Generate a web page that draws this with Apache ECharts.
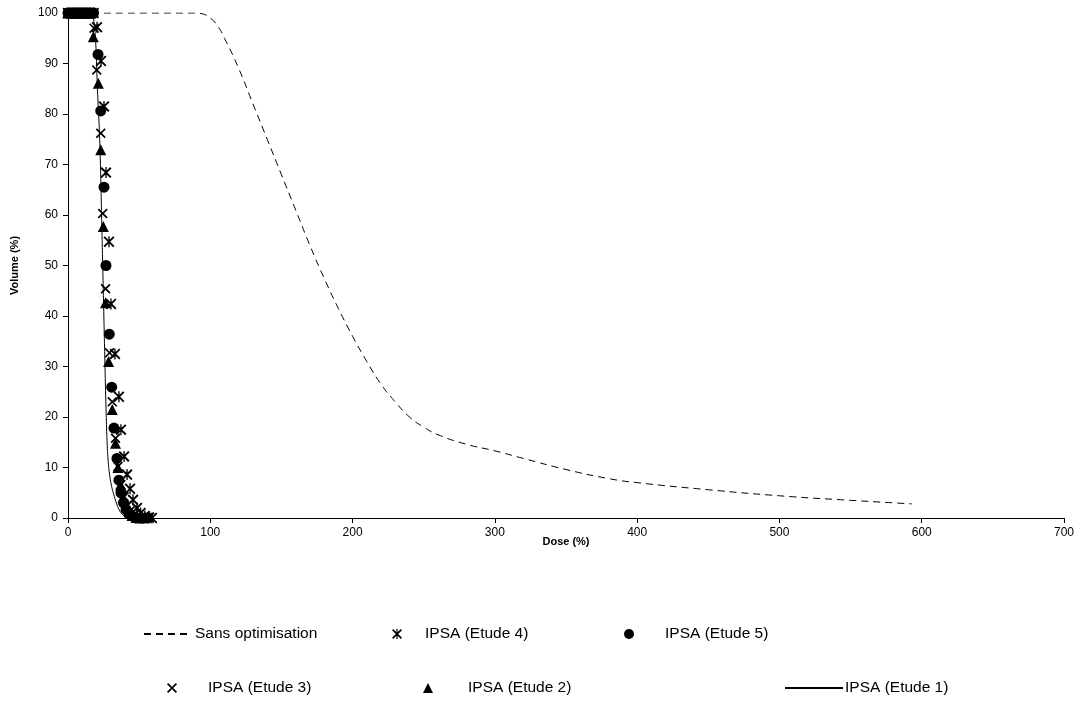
<!DOCTYPE html>
<html>
<head>
<meta charset="utf-8">
<script src="https://cdn.jsdelivr.net/npm/echarts@6/dist/echarts.min.js"></script>
<style>
html,body{margin:0;padding:0;background:#fff;}
#chart{width:1082px;height:701px;}
</style>
</head>
<body>
<div id="chart"></div>
<script>
// ---- Data (dose %, volume %) ----
const xTicks = [0, 100, 200, 300, 400, 500, 600, 700];
const yTicks = [0, 10, 20, 30, 40, 50, 60, 70, 80, 90, 100];

const sansDose = [0, 90, 95, 100, 105, 110, 120, 130, 140, 150, 160, 170, 180, 190, 200, 210, 220, 230, 240, 250, 260, 280, 300, 320, 350, 380, 400, 450, 500, 550, 593];
const sansVol  = [100, 100, 99.8, 99, 97.5, 95, 89, 82, 75, 68, 61, 54, 47.5, 41.5, 36, 31, 26.5, 23, 20, 18, 16.5, 14.6, 13.3, 11.8, 9.6, 7.8, 7, 5.6, 4.4, 3.5, 2.8];

const e1Dose = [0, 15, 17, 18.5, 19.5, 20.3, 21, 22, 22.8, 23.6, 24.4, 25.2, 26, 26.7, 27.5, 28.3, 29.3, 30.5, 32, 34, 36, 38, 40, 43];
const e1Vol  = [100, 100, 99.6, 97.5, 94, 88, 83, 77, 70, 60, 50, 40, 30, 22, 15, 11, 8.5, 6.5, 4.8, 3, 1.6, 0.8, 0.3, 0];

const e4Dose = [0, 2, 4, 6, 8, 10, 12, 14, 16, 18, 20.4, 23.2, 25.3, 26.7, 28.8, 30.2, 33, 35.8, 37.2, 39.4, 41.5, 43.6, 45.7, 48.5, 51, 54, 57, 59];
const e4Vol  = [100, 100, 100, 100, 100, 100, 100, 100, 100, 100, 97.2, 90.5, 81.5, 68.4, 54.7, 42.4, 32.5, 24, 17.5, 12.2, 8.6, 5.8, 3.6, 2, 1, 0.4, 0.1, 0];

const e5Dose = [0, 2, 4, 6, 8, 10, 12, 14, 16, 18, 21.1, 23, 25.3, 26.7, 29, 30.7, 32.3, 34.4, 35.8, 37.2, 39, 40.8, 42.9, 45, 47.8, 52, 56];
const e5Vol  = [100, 100, 100, 100, 100, 100, 100, 100, 100, 100, 91.8, 80.6, 65.5, 50, 36.4, 25.9, 17.8, 11.8, 7.5, 5, 3, 1.7, 0.9, 0.4, 0.1, 0, 0];

const e3Dose = [0, 2, 4, 6, 8, 10, 12, 14, 16, 18.3, 20.2, 23, 24.4, 26.4, 29.2, 31.1, 33.4, 35.1, 37.2, 39.4, 41.5, 43.6, 46.4, 49.2, 52.7, 55.5];
const e3Vol  = [100, 100, 100, 100, 100, 100, 100, 100, 100, 97, 88.7, 76.2, 60.3, 45.4, 32.7, 23, 15.8, 10.2, 6.6, 4.2, 2.5, 1.4, 0.7, 0.3, 0.1, 0];

const e2Dose = [0, 2, 4, 6, 8, 10, 12, 14, 16, 17.8, 21.3, 23, 24.8, 26.4, 28.5, 31.1, 33.4, 35.1, 36.9, 38.7, 40.8, 42.9, 45, 47.8, 50.6];
const e2Vol  = [100, 100, 100, 100, 100, 100, 100, 100, 100, 95.3, 86.1, 72.9, 57.7, 42.6, 31, 21.5, 14.8, 10, 6.6, 4.1, 2.3, 1.2, 0.5, 0.1, 0];

const names = ['Sans optimisation', 'IPSA (Etude 4)', 'IPSA (Etude 5)', 'IPSA (Etude 3)', 'IPSA (Etude 2)', 'IPSA (Etude 1)'];

function pairs(xs, ys) { return xs.map((x, i) => [x, ys[i]]); }

const CROSS = 'path://M0,1.2 L1.2,0 L10,8.8 L8.8,10 Z M8.8,0 L10,1.2 L1.2,10 L0,8.8 Z';
const STAR = 'path://M0,1.2 L1.2,0 L10,8.8 L8.8,10 Z M8.8,0 L10,1.2 L1.2,10 L0,8.8 Z M4.4,0 L5.6,0 L5.6,10 L4.4,10 Z';

const FONT = 'Liberation Sans, Arial, sans-serif';
const LFS = 15.5;
const chart = echarts.init(document.getElementById('chart'), null, {renderer: 'canvas'});

function legendAt(name, left, top, pad, opts) {
  return Object.assign({
    data: [name], left: left, top: top, orient: 'horizontal', padding: 0,
    itemWidth: 10, itemHeight: 10, selectedMode: false,
    textStyle: {fontFamily: FONT, fontSize: LFS, color: '#000', padding: [0, 0, 0, pad]}
  }, opts || {});
}

chart.setOption({
  animation: false,
  backgroundColor: '#fff',
  textStyle: {fontFamily: FONT},
  grid: {left: 68, right: 18, top: 13, bottom: 183, containLabel: false},
  xAxis: {
    type: 'value', min: 0, max: 700, interval: 100,
    name: 'Dose (%)', nameLocation: 'middle', nameGap: 18, nameMoveOverlap: false,
    nameTextStyle: {fontFamily: FONT, fontSize: 11, fontWeight: 'bold', color: '#000'},
    axisLine: {show: true, lineStyle: {color: '#000', width: 1}},
    axisTick: {show: true, length: 5, lineStyle: {color: '#000'}},
    axisLabel: {fontFamily: FONT, fontSize: 12, color: '#000', margin: 9},
    splitLine: {show: false}
  },
  yAxis: {
    type: 'value', min: 0, max: 100, interval: 10,
    name: 'Volume (%)', nameLocation: 'middle', nameGap: 48, nameRotate: 90,
    nameTextStyle: {fontFamily: FONT, fontSize: 11, fontWeight: 'bold', color: '#000'},
    axisLine: {show: true, lineStyle: {color: '#000', width: 1}},
    axisTick: {show: true, length: 5, lineStyle: {color: '#000'}},
    axisLabel: {fontFamily: FONT, fontSize: 12, color: '#000', margin: 10},
    splitLine: {show: false}
  },
  legend: [
    legendAt(names[0], 143, 626, 0, {itemWidth: 46, itemStyle: {opacity: 0, borderWidth: 0}}),
    legendAt(names[1], 392, 626, 18),
    legendAt(names[2], 624, 626, 26),
    legendAt(names[3], 167, 680, 26),
    legendAt(names[4], 423, 680, 30),
    legendAt(names[5], 784, 680, -3, {itemWidth: 58, itemStyle: {opacity: 0, borderWidth: 0}})
  ],
  series: [
    {name: names[0], type: 'line', data: pairs(sansDose, sansVol), symbol: 'none', smooth: true,
     lineStyle: {color: '#000', width: 1, type: [7, 5]}, itemStyle: {color: '#000'}},
    {name: names[5], type: 'line', data: pairs(e1Dose, e1Vol), symbol: 'none', smooth: true,
     lineStyle: {color: '#000', width: 1}, itemStyle: {color: '#000'}},
    {name: names[1], type: 'scatter', data: pairs(e4Dose, e4Vol), symbol: STAR, symbolSize: 11,
     itemStyle: {color: '#000', opacity: 1}},
    {name: names[2], type: 'scatter', data: pairs(e5Dose, e5Vol), symbol: 'circle', symbolSize: 11,
     itemStyle: {color: '#000', opacity: 1}},
    {name: names[3], type: 'scatter', data: pairs(e3Dose, e3Vol), symbol: CROSS, symbolSize: 10,
     itemStyle: {color: '#000', opacity: 1}},
    {name: names[4], type: 'scatter', data: pairs(e2Dose, e2Vol), symbol: 'triangle', symbolSize: 11,
     itemStyle: {color: '#000', opacity: 1}}
  ]
});
</script>
</body>
</html>
